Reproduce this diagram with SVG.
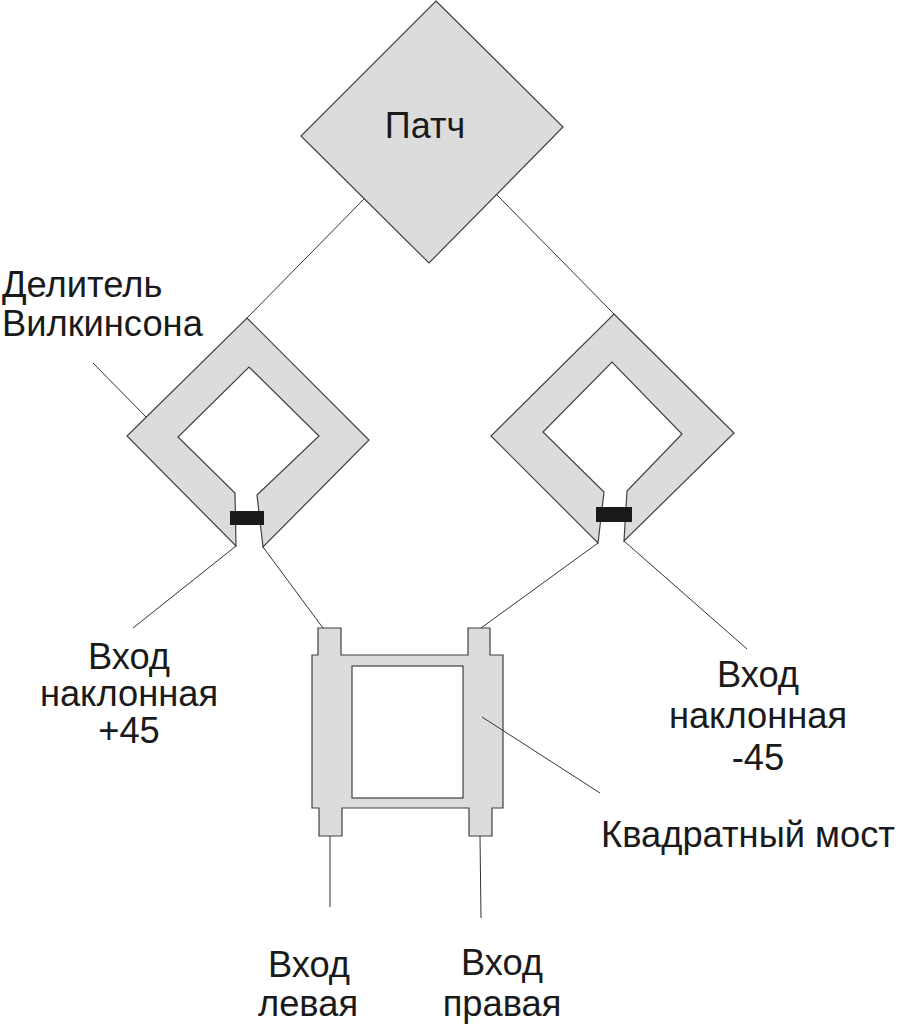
<svg xmlns="http://www.w3.org/2000/svg" width="901" height="1024" viewBox="0 0 901 1024">
<style>
.shape{fill:#dcdcdc;stroke:#404040;stroke-width:1.2;stroke-linejoin:miter}
.hole{fill:#ffffff;stroke:#404040;stroke-width:1.2}
.res{fill:#1a1a1a;stroke:none}
.ln{stroke:#333333;stroke-width:1;fill:none}
text{font-family:"Liberation Sans",Arial,sans-serif;font-size:36.3px;fill:#1a1a1a}
.c{text-anchor:middle}
</style>
<rect width="901" height="1024" fill="#ffffff"/>
<g id="patch">
<polygon class="shape" points="436,1 563,127 429,263 301,136"/>
<text x="425" y="138" class="c" style="font-size:36px">Патч</text>
</g>
<g id="divider-left">
<path class="shape" d="M247,318 L369,440 L263,547 L257,495 L319,436 L249,367 L178,437 L235,493 L236,546 L127,436 Z"/>
<rect class="res" x="230" y="511" width="34" height="14"/>
</g>
<g id="divider-right">
<path class="shape" d="M614,314 L734,433 L624,541 L627,491 L682,434 L612,362 L543,432 L604,492 L598,543 L491,436 Z"/>
<rect class="res" x="596" y="507" width="36" height="15"/>
</g>
<g id="bridge">
<path class="shape" d="M318,628 L341,628 L341,655 L468,655 L468,628 L490,628 L490,655 L503,655 L503,808 L492,808 L492,836 L469,836 L469,808 L342,808 L342,836 L319,836 L319,808 L312,808 L312,655 L318,655 Z"/>
<rect class="hole" x="352" y="666" width="111" height="132"/>
</g>
<g id="connectors">
<line class="ln" x1="364" y1="199" x2="247" y2="318"/>
<line class="ln" x1="497" y1="195" x2="614" y2="314"/>
<line class="ln" x1="93" y1="363" x2="146" y2="417"/>
<line class="ln" x1="236" y1="546" x2="133" y2="628"/>
<line class="ln" x1="263" y1="547" x2="323" y2="628"/>
<line class="ln" x1="598" y1="543" x2="481" y2="628"/>
<line class="ln" x1="624" y1="541" x2="747" y2="649"/>
<line class="ln" x1="482" y1="717" x2="600" y2="793"/>
<line class="ln" x1="330" y1="836" x2="330" y2="907"/>
<line class="ln" x1="480" y1="836" x2="481" y2="918"/>
</g>
<g id="label-wilkinson">
<text x="2" y="297">Делитель</text>
<text x="2" y="336">Вилкинсона</text>
</g>
<g id="label-plus45">
<text x="129" y="669" class="c">Вход</text>
<text x="129" y="706" class="c">наклонная</text>
<text x="129" y="743" class="c">+45</text>
</g>
<g id="label-minus45">
<text x="758" y="687" class="c">Вход</text>
<text x="758" y="728" class="c">наклонная</text>
<text x="758" y="770" class="c">-45</text>
</g>
<g id="label-bridge">
<text x="601" y="847">Квадратный мост</text>
</g>
<g id="label-left">
<text x="309" y="977" class="c">Вход</text>
<text x="308" y="1016" class="c">левая</text>
</g>
<g id="label-right">
<text x="502" y="975" class="c">Вход</text>
<text x="502" y="1016" class="c">правая</text>
</g>
</svg>
